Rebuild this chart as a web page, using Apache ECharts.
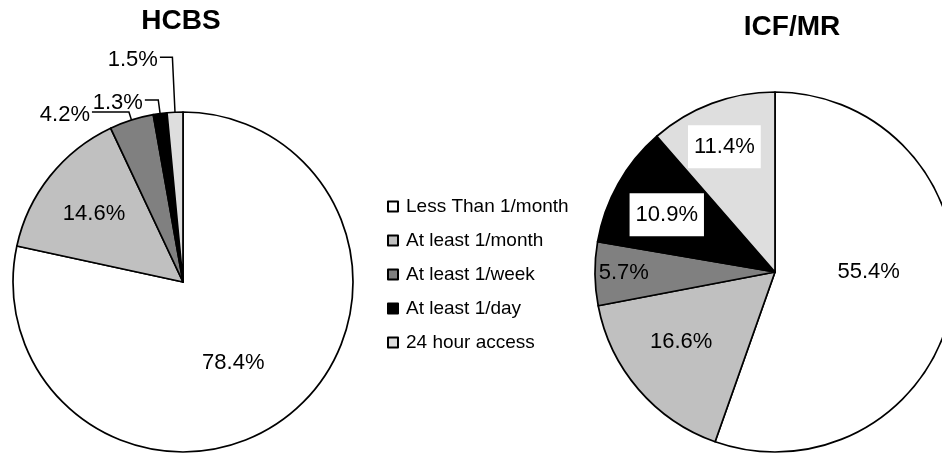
<!DOCTYPE html>
<html>
<head>
<meta charset="utf-8">
<script src="https://cdn.jsdelivr.net/npm/echarts@6/dist/echarts.min.js"></script>
<style>
html,body{margin:0;padding:0;background:#fff;}
#chart{width:942px;height:453px;}
</style>
</head>
<body>
<div id="chart"></div>
<script>
// ---- data ----
const categories = ['Less Than 1/month', 'At least 1/month', 'At least 1/week', 'At least 1/day', '24 hour access'];
const hcbsValues = [78.4, 14.6, 4.2, 1.3, 1.5];
const icfmrValues = [55.4, 16.6, 5.7, 10.9, 11.4];
const titles = ['HCBS', 'ICF/MR'];

// ---- styling ----
const FONT = 'Liberation Sans, Arial, sans-serif';
const colors = ['#ffffff', '#c0c0c0', '#808080', '#000000', '#dedede'];
const pies = [
  { cx: 183, cy: 282, r: 170,
    labelFrac: [0.56, 0.66, null, null, null],
    labelTurn: [7, -1, 0, 0, 0],
    outside: { 2: { length: 8.4, length2: 37 }, 3: { length: 13.7, length2: 13.4 }, 4: { length: 55, length2: 12.5 } },
    boxed: [] },
  { cx: 775, cy: 272, r: 180,
    labelFrac: [0.52, 0.65, 0.84, 0.68, 0.75],
    labelTurn: [-10, 4, 0, -1.5, -1.5],
    outside: {},
    boxed: [3, 4] }
];

function buildData(values, cfg) {
  return values.map((v, i) => {
    const item = { name: categories[i], value: v, itemStyle: { color: colors[i] } };
    if (cfg.outside[i]) {
      item.label = { position: 'outside', distanceToLabelLine: 2 };
      item.labelLine = { show: true, length: cfg.outside[i].length, length2: cfg.outside[i].length2,
        lineStyle: { color: '#000', width: 1.5 } };
    }
    if (cfg.boxed.indexOf(i) >= 0) {
      item.label = { backgroundColor: '#ffffff', padding: [11, 6, 10, 6] };
    }
    return item;
  });
}

function makeSeries(values, idx) {
  const cfg = pies[idx];
  return {
    type: 'pie',
    center: [cfg.cx, cfg.cy],
    radius: cfg.r,
    startAngle: 90,
    clockwise: true,
    avoidLabelOverlap: false,
    animation: false,
    itemStyle: { borderColor: '#000', borderWidth: 1.7 },
    emphasis: { disabled: true },
    label: {
      show: true,
      position: 'inside',
      color: '#000',
      fontFamily: FONT,
      fontSize: 22,
      formatter: p => p.value.toFixed(1) + '%'
    },
    labelLine: { show: false },
    labelLayout: function (p) {
      const f = cfg.labelFrac[p.dataIndex];
      if (f == null) {
        return { dy: 3, labelLinePoints: p.labelLinePoints };
      }
      const lr = p.labelRect;
      const lx = lr.x + lr.width / 2, ly = lr.y + lr.height / 2;
      let vx = lx - cfg.cx, vy = ly - cfg.cy;
      const a = (cfg.labelTurn[p.dataIndex] || 0) * Math.PI / 180;
      const rx = vx * Math.cos(a) - vy * Math.sin(a);
      const ry = vx * Math.sin(a) + vy * Math.cos(a);
      const d = Math.hypot(rx, ry) || 1;
      const t = f * cfg.r / d;
      return { x: cfg.cx + rx * t, y: cfg.cy + ry * t, align: 'center', verticalAlign: 'middle' };
    },
    data: buildData(values, cfg)
  };
}

const chart = echarts.init(document.getElementById('chart'), null, { renderer: 'canvas' });
chart.setOption({
  backgroundColor: '#ffffff',
  animation: false,
  textStyle: { fontFamily: FONT },
  title: [
    { text: titles[0], left: 181, top: 7, textAlign: 'center', padding: 0,
      textStyle: { fontFamily: FONT, fontSize: 28, fontWeight: 'bold', color: '#000' } },
    { text: titles[1], left: 792, top: 13, textAlign: 'center', padding: 0,
      textStyle: { fontFamily: FONT, fontSize: 28, fontWeight: 'bold', color: '#000' } }
  ],
  legend: {
    orient: 'vertical',
    left: 387,
    top: 197,
    padding: 0,
    itemWidth: 10,
    itemHeight: 10,
    itemGap: 15,
    icon: 'rect',
    selectedMode: false,
    data: categories,
    itemStyle: { borderColor: '#000', borderWidth: 2 },
    textStyle: { fontFamily: FONT, fontSize: 19, color: '#000', padding: [0, 0, 0, 3] }
  },
  series: [makeSeries(hcbsValues, 0), makeSeries(icfmrValues, 1)]
});
</script>
</body>
</html>
